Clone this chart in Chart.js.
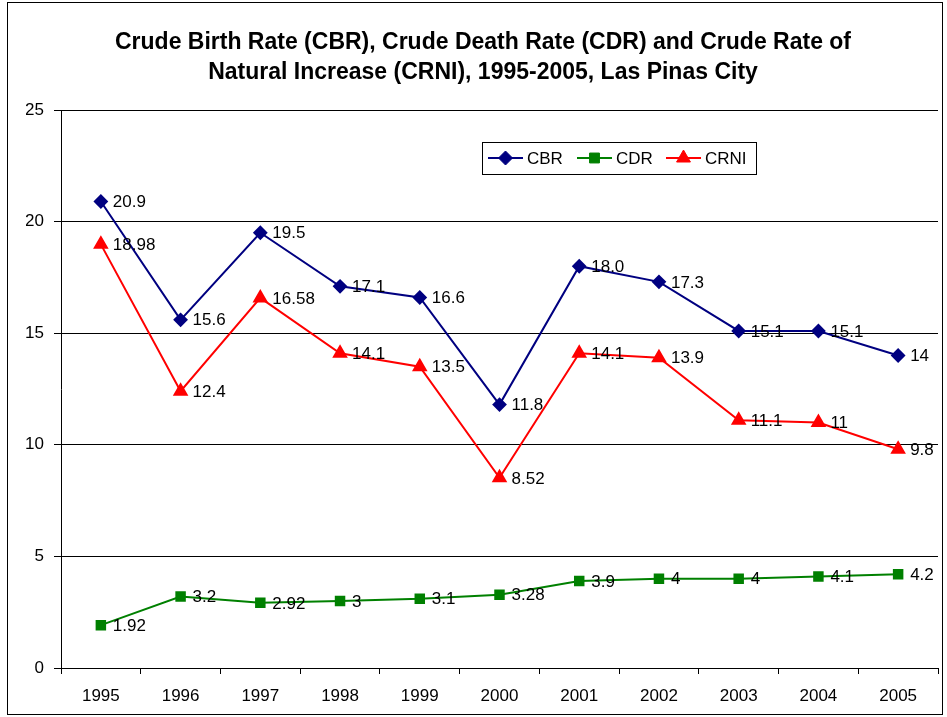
<!DOCTYPE html>
<html>
<head>
<meta charset="utf-8">
<script src="https://cdn.jsdelivr.net/npm/chart.js@4"></script>
<style>
  body { margin: 0; background: #fff; }
  canvas { display: block; }
</style>
</head>
<body>
<canvas id="myChart" width="947" height="717"></canvas>
<script>
// Data chart
const years = ['1995', '1996', '1997', '1998', '1999', '2000', '2001', '2002', '2003', '2004', '2005'];
const cbr = [20.9, 15.6, 19.5, 17.1, 16.6, 11.8, 18.0, 17.3, 15.1, 15.1, 14];
const cdr = [1.92, 3.2, 2.92, 3, 3.1, 3.28, 3.9, 4, 4, 4.1, 4.2];
const crni = [18.98, 12.4, 16.58, 14.1, 13.5, 8.52, 14.1, 13.9, 11.1, 11, 9.8];
// label teks seperti di gambar asli
const cbrLabels = ['20.9', '15.6', '19.5', '17.1', '16.6', '11.8', '18.0', '17.3', '15.1', '15.1', '14'];
const cdrLabels = ['1.92', '3.2', '2.92', '3', '3.1', '3.28', '3.9', '4', '4', '4.1', '4.2'];
const crniLabels = ['18.98', '12.4', '16.58', '14.1', '13.5', '8.52', '14.1', '13.9', '11.1', '11', '9.8'];
const yTicks = [0, 5, 10, 15, 20, 25];

const FONT = 'Arial, "Liberation Sans", sans-serif';

// Latar putih + bingkai luar
const frame = {
    id: 'frame',
    beforeDraw(chart) {
        const c = chart.ctx;
        c.save();
        c.fillStyle = '#fff';
        c.fillRect(0, 0, chart.width, chart.height);
        c.strokeStyle = '#000';
        c.lineWidth = 1;
        c.strokeRect(7.5, 2.5, 935, 712);
        c.restore();
    }
};

// Label nilai di kanan setiap titik
const pointLabels = {
    id: 'pointLabels',
    afterDatasetsDraw(chart) {
        const c = chart.ctx;
        c.save();
        c.font = '17px ' + FONT;
        c.fillStyle = '#000';
        c.textBaseline = 'middle';
        c.textAlign = 'left';
        chart.data.datasets.forEach((ds, i) => {
            chart.getDatasetMeta(i).data.forEach((pt, j) => {
                c.fillText(ds.labelsText[j], pt.x + 12, pt.y + 1);
            });
        });
        c.restore();
    }
};

// Legenda dalam kotak, di dalam area plot
const boxLegend = {
    id: 'boxLegend',
    afterDraw(chart) {
        const c = chart.ctx;
        const x0 = 482, y0 = 142, w = 274, h = 32;
        c.save();
        c.fillStyle = '#fff';
        c.fillRect(x0, y0, w, h);
        c.strokeStyle = '#000';
        c.lineWidth = 1;
        c.strokeRect(x0 + 0.5, y0 + 0.5, w, h);
        const cy = y0 + h / 2;
        const starts = [488, 577, 666];
        c.font = '17px ' + FONT;
        c.textBaseline = 'middle';
        chart.data.datasets.forEach((ds, i) => {
            const sx = starts[i];
            c.strokeStyle = ds.borderColor;
            c.fillStyle = ds.backgroundColor;
            c.lineWidth = 2;
            c.beginPath();
            c.moveTo(sx, cy);
            c.lineTo(sx + 35, cy);
            c.stroke();
            c.lineWidth = 1;
            Chart.helpers.drawPoint(c, {
                pointStyle: ds.pointStyle,
                radius: ds.pointRadius + 1,
                borderWidth: 1
            }, sx + 17.5, cy);
            c.fillStyle = '#000';
            c.fillText(ds.label, sx + 39, cy + 1);
        });
        c.restore();
    }
};

const ctx = document.getElementById('myChart').getContext('2d');
const myChart = new Chart(ctx, {
    type: 'line',
    data: {
        labels: years,
        datasets: [{
            label: 'CBR',
            data: cbr,
            labelsText: cbrLabels,
            borderColor: '#000080',
            backgroundColor: '#000080',
            borderWidth: 2,
            pointStyle: 'rectRot',
            pointRadius: 6,
            pointHoverRadius: 6
        }, {
            label: 'CDR',
            data: cdr,
            labelsText: cdrLabels,
            borderColor: '#008000',
            backgroundColor: '#008000',
            borderWidth: 2,
            pointStyle: 'rect',
            pointRadius: 6,
            pointHoverRadius: 6
        }, {
            label: 'CRNI',
            data: crni,
            labelsText: crniLabels,
            borderColor: '#ff0000',
            backgroundColor: '#ff0000',
            borderWidth: 2,
            pointStyle: 'triangle',
            pointRadius: 7,
            pointHoverRadius: 7
        }]
    },
    options: {
        responsive: false,
        animation: false,
        layout: { padding: { left: 26, right: 7, top: 0, bottom: 0 } },
        plugins: {
            legend: { display: false },
            tooltip: { enabled: false },
            title: {
                display: true,
                text: ['Crude Birth Rate (CBR), Crude Death Rate (CDR) and Crude Rate of',
                       'Natural Increase (CRNI), 1995-2005, Las Pinas City'],
                color: '#000',
                font: { family: FONT, size: 23, weight: 'bold', lineHeight: 30 / 23 },
                padding: { top: 28, bottom: 22 }
            }
        },
        scales: {
            x: {
                offset: true,
                grid: {
                    offset: true,
                    drawOnChartArea: false,
                    drawTicks: true,
                    tickLength: 6,
                    color: '#000'
                },
                border: { color: '#000', width: 1 },
                ticks: {
                    color: '#000',
                    font: { family: FONT, size: 17 },
                    padding: 12,
                    maxRotation: 0
                },
                afterFit(scale) { scale.height = 49; }
            },
            y: {
                min: 0,
                max: 25,
                afterBuildTicks(scale) { scale.ticks = yTicks.map(v => ({ value: v })); },
                grid: {
                    color: '#000',
                    lineWidth: 1,
                    tickLength: 7
                },
                border: { color: '#000', width: 1 },
                ticks: {
                    color: '#000',
                    font: { family: FONT, size: 17 },
                    padding: 10
                },
                afterFit(scale) { scale.width = 35; }
            }
        }
    },
    plugins: [frame, pointLabels, boxLegend]
});
</script>
</body>
</html>
